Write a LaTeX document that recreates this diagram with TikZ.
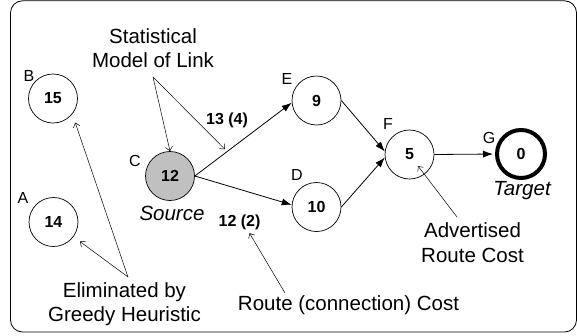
\documentclass[tikz,border=0pt]{standalone}
\usepackage{fontspec}
\setmainfont{Liberation Sans}
\usetikzlibrary{arrows.meta}
\definecolor{srcgray}{RGB}{192,192,192}
\begin{document}
\begin{tikzpicture}[x=1pt,y=-1pt,
  vert/.style={circle,draw,line width=0.7pt,minimum size=49pt,inner sep=0pt,font=\fontsize{16}{19}\selectfont\bfseries},
  lbl/.style={inner sep=0pt,font=\fontsize{16}{19}\selectfont},
  note/.style={inner sep=0pt,align=center,font=\fontsize{20.5}{24.5}\selectfont},
  inote/.style={inner sep=0pt,font=\fontsize{20.5}{24.5}\selectfont\itshape},
  cost/.style={inner sep=0pt,font=\fontsize{16}{19}\selectfont\bfseries},
  edge/.style={line width=0.8pt,-{Latex[length=10pt,width=7pt]}},
  ann/.style={line width=0.5pt,-{Straight Barb[length=4pt,width=7pt]}}]
\useasboundingbox (0,0) rectangle (577,335);
\draw[line width=0.8pt,rounded corners=12pt] (10.5,0.8) rectangle (576.5,332);

% vertices
\node[vert] (B) at (53,98.5) {15};
\node[vert] (A) at (53.5,222) {14};
\node[vert,fill=srcgray] (C) at (170,176) {12};
\node[vert] (E) at (316.5,100.5) {9};
\node[vert] (D) at (316.5,207) {10};
\node[vert] (F) at (409.5,154.5) {5};
\node[vert,line width=4pt,minimum size=48pt] (G) at (521,154) {0};

% letters
\node[lbl] (lB) at (29,76) {B};
\node[lbl] (lA) at (23,198) {A};
\node[lbl] (lC) at (135,161) {C};
\node[lbl] (lE) at (287,79) {E};
\node[lbl] (lD) at (297,175) {D};
\node[lbl] (lF) at (388,124) {F};
\node[lbl] (lG) at (489,138) {G};

% source / target
\node[inote] (src) at (172,213.5) {Source};
\node[inote] (tgt) at (522,190.5) {Target};

% costs
\node[cost] (c13) at (227,120) {13 (4)};
\node[cost] (c12) at (239.5,222.5) {12 (2)};

% notes
\node[note] (stat) at (153,48) {Statistical\\Model of Link};
\node[note] (elim) at (124.5,304) {Eliminated by\\Greedy Heuristic};
\node[note] (route) at (348.5,305) {Route (connection) Cost};
\node[note] (adv) at (472.5,242.5) {Advertised\\Route Cost};

% graph edges
\draw[edge] (C.east) -- (E.185);
\draw[edge] (C.east) -- (D.175);
\draw[edge] (E.east) -- (F.173);
\draw[edge] (D.east) -- (F.187);
\draw[edge,shorten >=2pt] (F.east) -- (G.west);

% annotation arrows
\coordinate (sS) at (153,77);
\coordinate (sE) at (128,277);
\coordinate (sR) at (285,293);
\coordinate (sA) at (457,217);
\path (C.east) -- (E.185) coordinate[pos=0.31] (onCE);
\draw[ann] (sS) -- (C.north);
\draw[ann] (sS) -- ([yshift=4pt]onCE);
\draw[ann,shorten >=8pt] (sE) -- (A);
\draw[ann,shorten >=9pt] (sE) -- (B.-39);
\draw[ann] (sR) -- ([xshift=10pt,yshift=-3pt]c12.south);
\draw[ann] (sA) -- ([xshift=8.5pt,yshift=-11.5pt]F.center);
\end{tikzpicture}
\end{document}
